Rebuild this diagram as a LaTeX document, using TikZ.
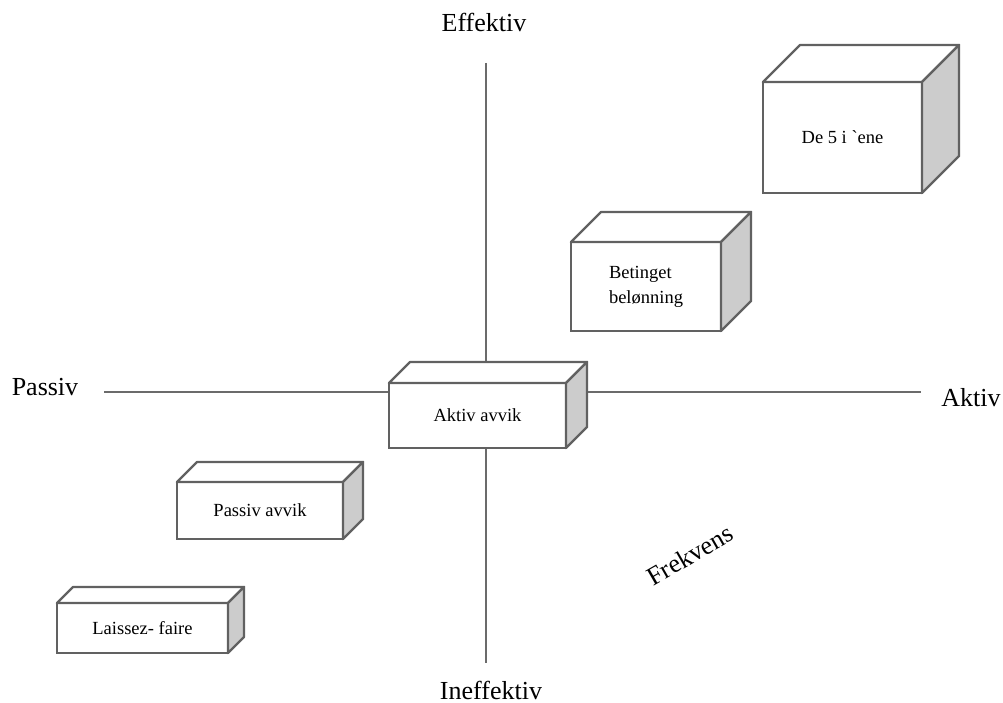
\documentclass[tikz,border=0pt]{standalone}
\usepackage{fontspec}
\setmainfont{Liberation Serif}
\usepackage{tikz}
\usetikzlibrary{positioning}

\begin{document}
\begin{tikzpicture}[
        x=1pt, y=-1pt,
        akse/.style={draw=black!58, line width=1.6pt},
        etikett/.style={anchor=base, font=\fontsize{26}{30}\selectfont},
        front/.style={draw=black!62, line width=2.4pt, fill=white, rectangle, inner sep=0pt, outer sep=0pt, align=center, font=\fontsize{18.5}{25}\selectfont},
        topp/.style={draw=black!62, line width=2.4pt, fill=white, line join=round},
        side/.style={draw=black!62, line width=2.4pt, fill=black!20, line join=round}
    ]
    \useasboundingbox (0,0) rectangle (1003,703);

    % ==========================================
    % Akser
    % ==========================================
    \node[etikett] (effektiv) at (484, 32) {Effektiv};
    \node[etikett] (ineffektiv) at (491, 699) {Ineffektiv};
    \node[etikett] (passiv) at (45, 395) {Passiv};
    \node[etikett] (aktiv) at (971, 406) {Aktiv};

    \coordinate (v_topp) at (486, 63);
    \coordinate (v_bunn) at (486, 663);
    \coordinate (h_venstre) at (104, 392);
    \coordinate (h_hoyre) at (921, 392);

    \draw[akse] (v_topp) -- (v_bunn);
    \draw[akse] (h_venstre) -- (h_hoyre);

    \node[etikett, anchor=center, rotate=30] (frekvens) at (690, 555) {Frekvens};

    % ==========================================
    % Kuber (frontflate + topp + side)
    % ==========================================
    \node[front, minimum width=159pt, minimum height=111pt] (kube_a) at (842.5, 137.5) {De 5 i \textasciigrave ene};
    \node[front, minimum width=150pt, minimum height=89pt, align=left] (kube_b) at (646, 286.5) {Betinget\\belønning};
    \node[front, minimum width=177pt, minimum height=65pt] (kube_c) at (477.5, 415.5) {Aktiv avvik};
    \node[front, minimum width=166pt, minimum height=57pt] (kube_d) at (260, 510.5) {Passiv avvik};
    \node[front, minimum width=171pt, minimum height=50pt] (kube_e) at (142.5, 628) {Laissez- faire};

    \foreach \k/\d in {kube_a/37, kube_b/30, kube_c/21, kube_d/20, kube_e/16} {
        \draw[topp] (\k.north west) -- ([shift={(\d,-\d)}]\k.north west)
            -- ([shift={(\d,-\d)}]\k.north east) -- (\k.north east) -- cycle;
        \draw[side] (\k.north east) -- ([shift={(\d,-\d)}]\k.north east)
            -- ([shift={(\d,-\d)}]\k.south east) -- (\k.south east) -- cycle;
    }

\end{tikzpicture}
\end{document}
